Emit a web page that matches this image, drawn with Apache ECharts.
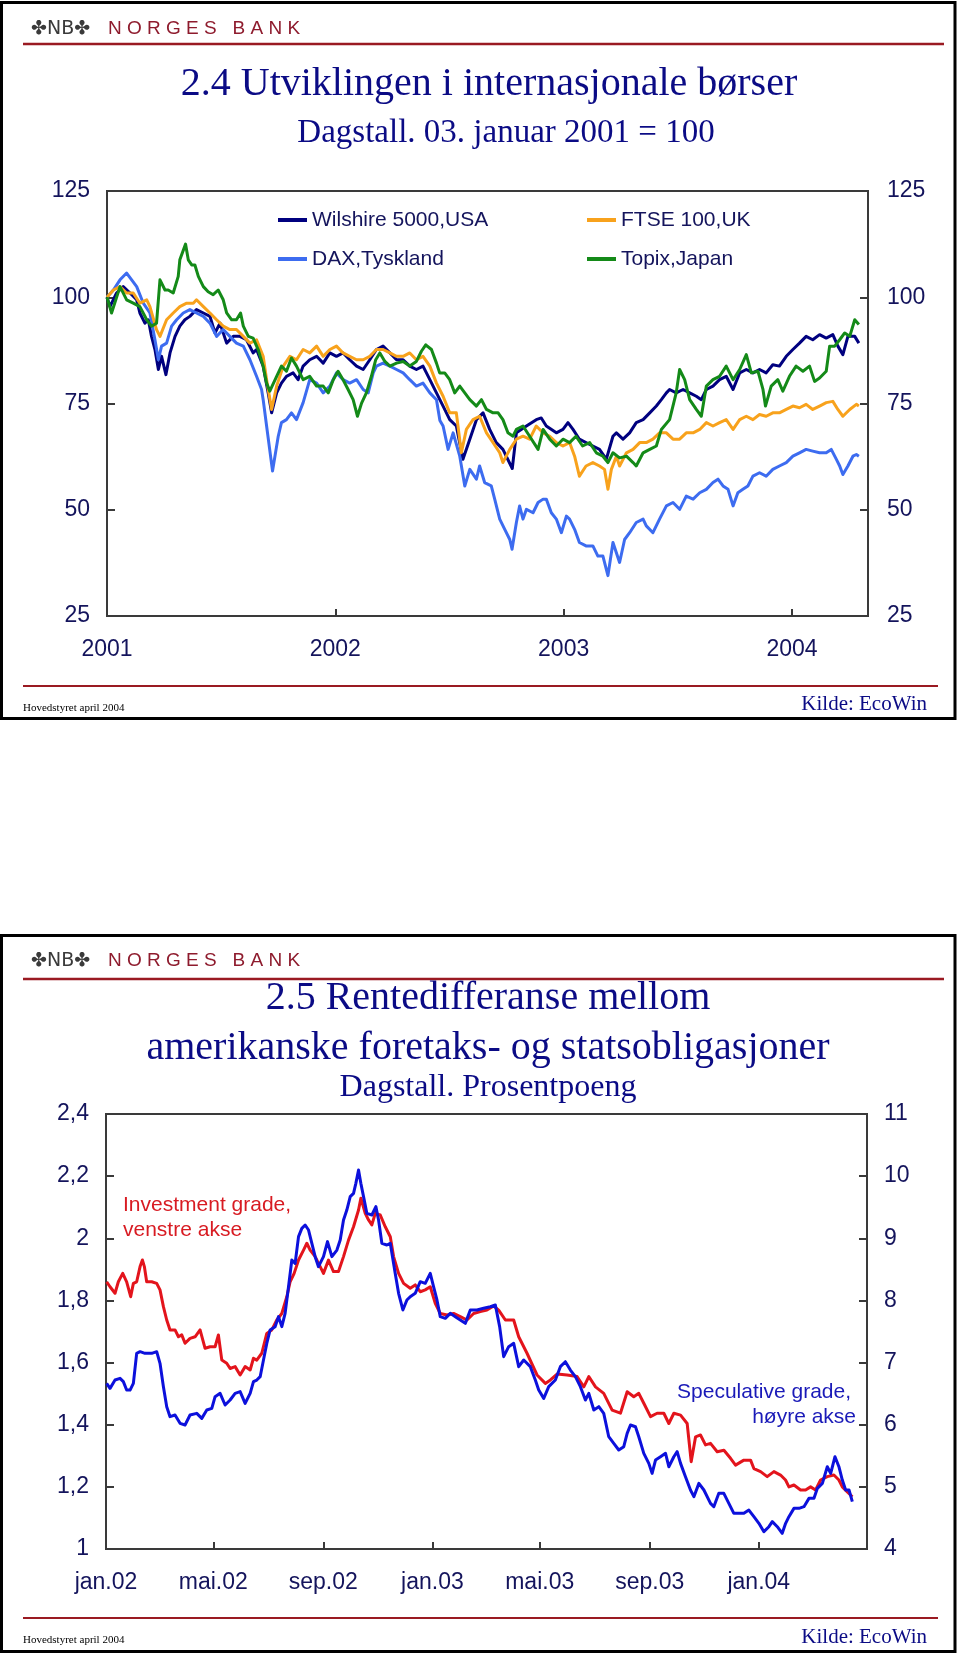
<!DOCTYPE html>
<html><head><meta charset="utf-8">
<script src="https://cdn.jsdelivr.net/npm/echarts@6.0.0/dist/echarts.min.js"></script>
<style>html,body{margin:0;padding:0;background:#fff}#c{width:960px;height:1654px}</style>
</head><body><div id="c"></div>
<script>
// ---------- Chart 2.4: stock indices, 03 Jan 2001 = 100 (x = decimal year) ----------
const seriesNamesTop = ['Wilshire 5000,USA', 'DAX,Tyskland', 'FTSE 100,UK', 'Topix,Japan'];
const yearTicks = [2001, 2002, 2003, 2004];
const indexTicks = [25, 50, 75, 100, 125];

const wilshire = [[2001.000,100.0],[2001.013,97.8],[2001.042,101.0],[2001.071,102.5],[2001.101,101.0],[2001.130,99.4],[2001.144,96.3],[2001.166,93.9],[2001.181,94.7],[2001.195,90.8],[2001.210,87.7],[2001.225,83.0],[2001.239,86.1],[2001.258,81.8],[2001.276,86.9],[2001.298,90.8],[2001.319,93.2],[2001.341,94.7],[2001.363,95.5],[2001.392,97.1],[2001.422,96.3],[2001.451,95.5],[2001.473,91.6],[2001.495,93.9],[2001.524,89.2],[2001.553,90.8],[2001.582,90.8],[2001.611,90.0],[2001.640,86.9],[2001.655,87.7],[2001.684,83.8],[2001.706,77.5],[2001.721,72.8],[2001.743,77.5],[2001.764,79.8],[2001.786,81.4],[2001.815,82.2],[2001.837,80.6],[2001.859,83.8],[2001.888,85.3],[2001.918,86.1],[2001.947,84.5],[2001.976,86.9],[2002.005,86.1],[2002.034,86.9],[2002.063,85.3],[2002.093,83.8],[2002.122,83.0],[2002.151,85.3],[2002.180,87.7],[2002.209,88.5],[2002.239,86.9],[2002.268,85.3],[2002.297,85.3],[2002.326,83.8],[2002.355,83.0],[2002.384,83.8],[2002.414,80.6],[2002.443,77.5],[2002.472,74.4],[2002.501,71.2],[2002.530,69.7],[2002.559,61.9],[2002.589,66.6],[2002.618,71.2],[2002.647,72.8],[2002.676,68.9],[2002.705,65.8],[2002.734,64.2],[2002.775,59.7],[2002.793,68.1],[2002.837,69.7],[2002.880,71.2],[2002.902,71.6],[2002.924,69.7],[2002.968,68.1],[2002.997,68.9],[2003.019,70.5],[2003.041,68.9],[2003.069,66.6],[2003.098,65.8],[2003.128,65.0],[2003.157,64.2],[2003.187,61.9],[2003.216,67.3],[2003.231,68.1],[2003.260,66.6],[2003.289,68.1],[2003.318,70.5],[2003.348,71.2],[2003.377,72.8],[2003.406,74.4],[2003.428,75.9],[2003.450,77.5],[2003.464,78.3],[2003.493,77.5],[2003.523,78.3],[2003.552,77.5],[2003.581,76.7],[2003.603,75.9],[2003.625,78.3],[2003.654,79.1],[2003.683,80.6],[2003.712,81.4],[2003.742,78.3],[2003.771,82.2],[2003.800,83.0],[2003.829,82.2],[2003.858,83.0],[2003.887,82.2],[2003.916,84.1],[2003.945,83.8],[2003.975,86.1],[2004.004,87.7],[2004.033,89.2],[2004.062,90.8],[2004.091,90.0],[2004.121,91.2],[2004.150,90.4],[2004.179,91.2],[2004.201,88.5],[2004.223,86.5],[2004.245,90.8],[2004.275,90.8],[2004.293,89.2]];

const dax = [[2001.000,100.0],[2001.028,101.7],[2001.057,104.1],[2001.086,105.7],[2001.108,104.1],[2001.130,102.5],[2001.159,98.6],[2001.188,96.3],[2001.210,90.0],[2001.225,85.3],[2001.239,88.5],[2001.261,89.2],[2001.283,93.2],[2001.305,94.7],[2001.334,96.3],[2001.363,97.1],[2001.392,96.3],[2001.422,95.5],[2001.451,93.9],[2001.480,90.8],[2001.509,92.4],[2001.538,90.8],[2001.567,89.2],[2001.597,88.5],[2001.626,85.3],[2001.655,81.4],[2001.677,78.3],[2001.684,75.9],[2001.699,69.7],[2001.725,59.1],[2001.750,67.3],[2001.764,70.5],[2001.786,71.2],[2001.808,72.8],[2001.830,71.2],[2001.859,75.2],[2001.888,80.6],[2001.918,79.8],[2001.947,77.5],[2001.976,79.1],[2002.005,82.2],[2002.034,80.6],[2002.063,79.8],[2002.093,80.6],[2002.122,78.3],[2002.144,77.5],[2002.166,82.2],[2002.180,83.8],[2002.209,84.5],[2002.239,83.8],[2002.268,83.0],[2002.297,82.2],[2002.326,80.6],[2002.355,79.1],[2002.384,79.8],[2002.414,77.5],[2002.443,75.9],[2002.458,71.0],[2002.472,69.7],[2002.494,64.2],[2002.516,68.1],[2002.545,62.6],[2002.567,55.6],[2002.589,59.5],[2002.618,57.2],[2002.632,60.3],[2002.654,56.4],[2002.683,55.6],[2002.698,52.5],[2002.720,47.8],[2002.742,45.4],[2002.764,43.0],[2002.774,40.7],[2002.793,47.0],[2002.807,50.9],[2002.822,47.8],[2002.837,50.1],[2002.866,49.3],[2002.888,51.7],[2002.910,52.5],[2002.924,52.5],[2002.946,49.3],[2002.968,47.8],[2002.990,44.6],[2003.012,48.5],[2003.026,47.8],[2003.048,45.4],[2003.069,42.3],[2003.098,41.5],[2003.128,41.5],[2003.150,39.1],[2003.172,39.1],[2003.194,34.5],[2003.216,42.3],[2003.245,37.6],[2003.267,43.0],[2003.289,44.6],[2003.318,47.0],[2003.348,47.8],[2003.362,46.2],[2003.391,44.6],[2003.420,47.8],[2003.450,50.9],[2003.479,51.7],[2003.508,50.1],[2003.537,53.2],[2003.567,52.5],[2003.596,54.0],[2003.625,54.8],[2003.654,56.4],[2003.676,57.2],[2003.698,55.6],[2003.720,54.8],[2003.742,50.9],[2003.763,54.0],[2003.785,54.8],[2003.807,55.6],[2003.829,57.9],[2003.858,58.7],[2003.887,57.9],[2003.916,59.5],[2003.945,60.3],[2003.975,61.1],[2004.004,62.6],[2004.033,63.4],[2004.062,64.2],[2004.091,63.8],[2004.121,63.4],[2004.150,63.4],[2004.172,64.2],[2004.194,61.9],[2004.209,60.3],[2004.223,58.3],[2004.245,60.3],[2004.267,62.6],[2004.282,63.0],[2004.293,62.6]];

const ftse = [[2001.000,100.0],[2001.028,101.7],[2001.057,102.5],[2001.086,101.0],[2001.115,101.0],[2001.144,98.6],[2001.174,99.4],[2001.188,97.8],[2001.217,92.4],[2001.232,90.8],[2001.261,94.7],[2001.290,96.3],[2001.319,97.8],[2001.349,98.6],[2001.378,98.6],[2001.392,99.4],[2001.422,97.8],[2001.451,96.3],[2001.480,94.7],[2001.509,93.2],[2001.538,92.4],[2001.567,92.4],[2001.597,90.8],[2001.626,89.2],[2001.655,90.0],[2001.684,86.1],[2001.699,80.6],[2001.721,73.6],[2001.743,79.1],[2001.772,83.8],[2001.801,86.1],[2001.830,85.3],[2001.859,87.7],[2001.888,86.9],[2001.918,88.5],[2001.947,86.1],[2001.976,87.7],[2002.005,88.5],[2002.034,86.9],[2002.063,86.1],[2002.093,85.3],[2002.122,85.3],[2002.151,86.1],[2002.180,87.7],[2002.209,87.7],[2002.239,86.9],[2002.268,86.1],[2002.297,86.1],[2002.326,86.9],[2002.355,85.3],[2002.384,86.1],[2002.414,83.8],[2002.443,79.8],[2002.472,76.7],[2002.501,72.8],[2002.530,72.8],[2002.552,63.4],[2002.574,68.9],[2002.603,71.2],[2002.632,72.0],[2002.662,68.1],[2002.691,65.8],[2002.720,63.4],[2002.734,61.1],[2002.764,64.2],[2002.793,66.6],[2002.822,67.3],[2002.851,66.6],[2002.880,69.7],[2002.910,68.1],[2002.939,67.3],[2002.968,65.8],[2002.997,65.0],[2003.026,65.8],[2003.048,62.6],[2003.069,57.9],[2003.098,60.3],[2003.128,61.1],[2003.157,60.3],[2003.179,59.5],[2003.194,54.8],[2003.209,59.5],[2003.231,62.6],[2003.245,60.3],[2003.275,63.4],[2003.304,64.2],[2003.333,65.8],[2003.362,65.8],[2003.391,66.6],[2003.420,68.1],[2003.450,68.1],[2003.479,66.6],[2003.508,66.6],[2003.537,68.1],[2003.567,68.1],[2003.596,68.9],[2003.625,70.5],[2003.654,69.7],[2003.683,70.5],[2003.712,71.2],[2003.742,68.9],[2003.771,71.2],[2003.800,72.0],[2003.829,71.2],[2003.858,72.4],[2003.887,72.0],[2003.916,72.8],[2003.945,72.8],[2003.975,73.6],[2004.004,74.4],[2004.033,74.0],[2004.062,74.8],[2004.091,73.6],[2004.121,74.4],[2004.150,75.2],[2004.179,75.5],[2004.201,73.6],[2004.223,72.0],[2004.253,73.6],[2004.282,74.8],[2004.293,74.4]];

const topix = [[2001.000,100.0],[2001.020,96.3],[2001.057,102.5],[2001.086,99.4],[2001.115,98.6],[2001.144,97.8],[2001.174,94.7],[2001.195,93.2],[2001.217,93.9],[2001.232,104.1],[2001.254,101.7],[2001.268,101.7],[2001.290,101.0],[2001.312,104.9],[2001.319,108.8],[2001.344,112.5],[2001.356,108.8],[2001.371,107.6],[2001.385,107.6],[2001.400,104.9],[2001.422,102.5],[2001.443,101.3],[2001.465,100.6],[2001.487,101.7],[2001.509,99.4],[2001.524,96.3],[2001.546,94.7],[2001.567,94.7],[2001.585,96.3],[2001.597,93.2],[2001.619,90.8],[2001.640,90.4],[2001.662,87.7],[2001.684,83.8],[2001.699,79.8],[2001.713,77.9],[2001.743,81.4],[2001.764,83.8],[2001.786,82.6],[2001.808,85.7],[2001.830,83.8],[2001.859,80.6],[2001.888,81.4],[2001.918,79.1],[2001.947,79.1],[2001.969,77.5],[2001.991,80.6],[2002.012,82.6],[2002.034,80.6],[2002.056,78.3],[2002.078,75.9],[2002.097,72.0],[2002.115,75.1],[2002.136,77.5],[2002.158,81.4],[2002.177,85.3],[2002.195,86.9],[2002.217,84.9],[2002.239,83.8],[2002.268,84.5],[2002.297,84.9],[2002.326,83.8],[2002.355,84.9],[2002.377,87.3],[2002.396,88.8],[2002.421,87.7],[2002.443,84.5],[2002.457,82.2],[2002.479,82.2],[2002.501,80.6],[2002.523,77.5],[2002.545,79.1],[2002.567,77.5],[2002.589,75.9],[2002.618,74.4],[2002.640,75.9],[2002.662,73.6],[2002.691,72.8],[2002.713,72.8],[2002.734,71.2],[2002.756,68.1],[2002.778,67.3],[2002.793,68.9],[2002.822,69.7],[2002.851,67.3],[2002.888,64.2],[2002.910,68.9],[2002.939,66.6],[2002.968,65.0],[2002.997,66.6],[2003.026,65.8],[2003.054,67.3],[2003.083,65.0],[2003.114,65.8],[2003.143,63.4],[2003.172,62.6],[2003.194,61.1],[2003.216,63.4],[2003.245,62.2],[2003.275,62.6],[2003.304,61.1],[2003.318,60.3],[2003.348,63.4],[2003.377,64.2],[2003.406,65.0],[2003.428,68.9],[2003.464,71.2],[2003.493,77.5],[2003.508,83.0],[2003.530,80.6],[2003.552,75.9],[2003.581,73.6],[2003.603,72.0],[2003.625,79.1],[2003.654,80.6],[2003.683,81.4],[2003.712,83.8],[2003.742,80.6],[2003.771,83.0],[2003.800,86.5],[2003.822,82.2],[2003.851,82.6],[2003.873,78.3],[2003.884,74.4],[2003.909,79.1],[2003.938,80.6],[2003.960,77.9],[2003.989,81.4],[2004.018,83.8],[2004.048,82.6],[2004.077,83.8],[2004.099,80.2],[2004.121,81.0],[2004.150,82.6],[2004.165,88.5],[2004.187,88.5],[2004.209,90.0],[2004.231,91.6],[2004.253,90.8],[2004.275,94.7],[2004.293,93.6]];

// ---------- Chart 2.5: credit spreads (x = days since 1 Jan 2002) ----------
const monthTickDays = [0, 120, 243, 365, 485, 608, 730];
const monthTickLabels = ['jan.02', 'mai.02', 'sep.02', 'jan.03', 'mai.03', 'sep.03', 'jan.04'];
const leftTicks = [1, 1.2, 1.4, 1.6, 1.8, 2, 2.2, 2.4];
const rightTicks = [4, 5, 6, 7, 8, 9, 10, 11];

const investmentGrade = [[0.7,1.860],[4.5,1.844],[10.1,1.823],[13.8,1.860],[18.7,1.887],[23.1,1.860],[27.6,1.812],[30.6,1.855],[34.3,1.860],[38.1,1.909],[40.7,1.930],[42.9,1.909],[45.5,1.860],[51.1,1.860],[56.7,1.855],[60.4,1.834],[64.2,1.780],[67.9,1.737],[71.6,1.705],[77.2,1.705],[81.0,1.683],[84.7,1.689],[88.4,1.662],[94.0,1.678],[99.6,1.683],[105.2,1.705],[110.8,1.646],[116.4,1.651],[122.0,1.651],[125.7,1.689],[129.5,1.608],[135.0,1.598],[138.8,1.581],[144.4,1.587],[150.0,1.560],[155.6,1.587],[161.2,1.576],[164.9,1.614],[168.6,1.608],[174.2,1.630],[179.8,1.694],[185.4,1.705],[191.0,1.737],[196.6,1.758],[202.2,1.812],[205.9,1.860],[210.4,1.887],[215.3,1.930],[220.9,1.962],[224.6,1.984],[228.3,1.962],[233.9,1.941],[239.5,1.909],[243.2,1.887],[248.8,1.930],[254.4,1.893],[260.0,1.893],[265.6,1.941],[271.2,1.994],[276.8,2.037],[282.4,2.091],[285.0,2.129],[289.9,2.080],[293.6,2.059],[297.3,2.043],[301.1,2.080],[306.7,2.075],[312.3,2.037],[317.9,2.005],[321.6,1.941],[327.2,1.887],[332.8,1.855],[340.2,1.839],[345.8,1.850],[351.4,1.828],[357.0,1.834],[362.6,1.844],[368.2,1.791],[373.8,1.758],[381.3,1.753],[388.7,1.758],[396.2,1.748],[403.7,1.737],[411.1,1.758],[418.6,1.764],[426.0,1.769],[433.5,1.782],[439.1,1.769],[446.6,1.737],[455.9,1.737],[461.5,1.683],[470.8,1.630],[482.0,1.560],[491.3,1.533],[497.0,1.544],[504.4,1.563],[515.6,1.560],[526.8,1.555],[534.3,1.522],[539.9,1.555],[547.4,1.522],[556.6,1.501],[566.0,1.447],[575.3,1.437],[582.8,1.506],[590.2,1.490],[595.8,1.501],[601.4,1.469],[608.9,1.426],[616.3,1.437],[623.8,1.437],[629.4,1.404],[635.0,1.437],[642.5,1.431],[649.9,1.404],[654.4,1.281],[659.3,1.361],[664.8,1.367],[670.4,1.335],[676.0,1.340],[683.5,1.313],[691.0,1.318],[698.4,1.292],[704.0,1.270],[713.3,1.286],[720.8,1.286],[724.5,1.259],[732.0,1.249],[739.4,1.233],[746.9,1.249],[754.3,1.238],[759.9,1.222],[763.7,1.200],[769.3,1.206],[776.7,1.190],[782.3,1.190],[787.9,1.200],[793.5,1.190],[799.1,1.222],[806.6,1.233],[814.0,1.238],[819.6,1.222],[823.4,1.200],[829.0,1.184],[834.6,1.168]];

const speculativeGrade = [[0.7,6.666],[4.5,6.585],[10.1,6.719],[15.7,6.746],[19.4,6.693],[23.1,6.558],[26.9,6.558],[30.6,6.666],[34.3,7.148],[38.1,7.175],[43.6,7.148],[51.1,7.148],[56.7,7.175],[60.4,6.988],[64.2,6.612],[67.9,6.290],[71.6,6.129],[77.2,6.156],[82.8,6.022],[88.4,5.995],[94.0,6.156],[101.5,6.183],[107.1,6.102],[112.7,6.237],[118.3,6.263],[122.0,6.451],[127.6,6.505],[133.2,6.317],[138.8,6.398],[144.4,6.505],[150.0,6.532],[155.6,6.344],[161.2,6.505],[164.9,6.693],[168.6,6.719],[172.4,6.773],[176.1,7.041],[179.8,7.309],[183.5,7.524],[189.1,7.578],[192.9,7.739],[196.6,7.578],[200.3,7.792],[204.1,8.221],[207.8,8.650],[211.5,8.597],[215.3,9.026],[219.0,9.160],[222.7,9.214],[226.5,9.133],[230.2,8.919],[233.9,8.704],[237.6,8.543],[243.2,8.704],[247.7,8.946],[252.6,8.704],[258.2,8.811],[261.9,8.972],[265.6,9.294],[269.3,9.455],[273.1,9.670],[276.8,9.723],[279.4,9.884],[282.4,10.099],[285.0,9.884],[288.0,9.670],[291.7,9.401],[297.3,9.375],[301.8,9.509],[304.8,9.294],[308.5,8.919],[314.1,8.892],[317.9,8.919],[323.4,8.436],[327.2,8.114],[332.0,7.846],[336.5,8.007],[340.2,8.060],[345.8,8.114],[351.4,8.302],[357.0,8.275],[362.6,8.436],[366.3,8.221],[370.1,8.007],[373.8,7.739],[379.4,7.712],[385.0,7.792],[390.6,7.739],[396.2,7.685],[401.8,7.631],[407.4,7.846],[414.8,7.846],[422.3,7.873],[429.8,7.899],[435.4,7.926],[440.2,7.578],[444.7,7.095],[450.3,7.256],[455.9,7.309],[461.5,6.934],[467.1,7.041],[474.5,6.934],[480.1,6.719],[483.9,6.558],[489.5,6.424],[495.1,6.612],[502.5,6.719],[508.1,6.934],[513.7,7.014],[519.3,6.880],[524.9,6.773],[530.5,6.612],[536.1,6.398],[539.9,6.505],[545.5,6.237],[551.1,6.290],[556.6,6.183],[562.2,5.807],[567.8,5.700],[573.4,5.593],[579.0,5.646],[582.8,5.861],[586.5,5.995],[592.1,5.968],[595.8,5.807],[601.4,5.539],[607.0,5.378],[610.7,5.217],[614.5,5.432],[620.1,5.485],[625.7,5.539],[629.4,5.324],[635.0,5.485],[638.7,5.566],[642.5,5.378],[648.0,5.164],[653.6,4.949],[657.4,4.842],[663.0,5.056],[668.6,4.949],[676.0,4.735],[679.7,4.681],[685.3,4.896],[690.9,4.896],[696.5,4.735],[702.1,4.574],[707.7,4.574],[713.3,4.574],[718.9,4.627],[724.5,4.520],[730.1,4.413],[735.7,4.279],[741.3,4.359],[745.1,4.440],[750.7,4.359],[756.2,4.252],[760.0,4.413],[763.7,4.520],[769.3,4.654],[774.9,4.654],[780.5,4.681],[786.1,4.815],[791.7,4.815],[795.5,4.976],[801.1,5.056],[806.6,5.324],[810.4,5.217],[815.2,5.485],[819.6,5.324],[823.4,5.110],[827.1,4.949],[830.9,4.949],[834.6,4.761]];

// ---------- styling ----------
const AX = '#3a3a3a';
const LBL = '#14145c';
const TITLE = '#0b0b85';
const RED_RULE = '#9a1a22';
const SANS = '"Liberation Sans", Arial, sans-serif';
const SERIF = '"Liberation Serif", "Times New Roman", serif';

function axisCommon(extra) {
  return Object.assign({
    axisLine: { show: true, onZero: false, lineStyle: { color: AX, width: 2 } },
    axisTick: { show: true, inside: true, length: 7, lineStyle: { color: AX, width: 2 } },
    splitLine: { show: false },
  }, extra);
}
const labelStyle = { fontSize: 23, color: LBL, fontFamily: SANS };

const lineSeries = (name, data, color, xi, yi, z) => ({
  name, type: 'line', data, xAxisIndex: xi, yAxisIndex: yi, color,
  symbol: 'none', showSymbol: false, z,
  lineStyle: { width: 3, color, join: 'round' }
});

function textEl(x, y, text, font, fill, align, vAlign) {
  return { type: 'text', x, y, silent: true, z: 20,
    style: { text, font, fill, align: align || 'left', verticalAlign: vAlign || 'middle' } };
}
function lineEl(x1, y1, x2, y2, stroke, w) {
  return { type: 'line', silent: true, z: 20, shape: { x1, y1, x2, y2 }, style: { stroke, lineWidth: w } };
}
function panelDeco(top, bottom, logoY, ruleY, footRuleY, kildeY, hovedY) {
  return [
    { type: 'rect', silent: true, z: 20, shape: { x: 1.5, y: top, width: 953.5, height: bottom - top },
      style: { fill: null, stroke: '#000', lineWidth: 3 } },
    textEl(31, logoY, '\u2724NB\u2724', '19px "DejaVu Sans"', '#3a3a3a'),
    textEl(108, logoY, 'N O R G E S   B A N K', '19px ' + SANS, '#8e1b2d'),
    lineEl(23, ruleY, 944, ruleY, RED_RULE, 2.5),
    lineEl(23, footRuleY, 938, footRuleY, RED_RULE, 2),
    textEl(927, kildeY, 'Kilde: EcoWin', '21px ' + SERIF, TITLE, 'right'),
    textEl(23, hovedY, 'Hovedstyret april 2004', '11px ' + SERIF, '#000')
  ];
}

const option = {
  animation: false,
  backgroundColor: '#fff',
  grid: [
    { left: 107, top: 191, width: 761, height: 425, show: true, borderColor: AX, borderWidth: 2, backgroundColor: 'rgba(0,0,0,0)' },
    { left: 106, top: 1114, width: 761, height: 435, show: true, borderColor: AX, borderWidth: 2, backgroundColor: 'rgba(0,0,0,0)' }
  ],
  legend: [
    { data: seriesNamesTop.slice(0, 2), orient: 'vertical', left: 278, top: 208, padding: 0,
      itemWidth: 29, itemHeight: 4, itemGap: 15, icon: 'rect', selectedMode: false,
      textStyle: { fontSize: 21, color: LBL, fontFamily: SANS, lineHeight: 24 } },
    { data: seriesNamesTop.slice(2, 4), orient: 'vertical', left: 587, top: 208, padding: 0,
      itemWidth: 29, itemHeight: 4, itemGap: 15, icon: 'rect', selectedMode: false,
      textStyle: { fontSize: 21, color: LBL, fontFamily: SANS, lineHeight: 24 } }
  ],
  xAxis: [
    axisCommon({ type: 'value', gridIndex: 0, min: 2001, max: 2004.333, interval: 1,
      axisTick: { show: true, inside: true, length: 7, lineStyle: { color: AX, width: 2 }, customValues: yearTicks },
      axisLabel: Object.assign({ customValues: yearTicks, margin: 22, formatter: v => String(Math.round(v)) }, labelStyle) }),
    axisCommon({ type: 'value', gridIndex: 1, min: 0, max: 851,
      axisTick: { show: true, inside: true, length: 7, lineStyle: { color: AX, width: 2 }, customValues: monthTickDays },
      axisLabel: Object.assign({ customValues: monthTickDays, margin: 22,
        formatter: v => { const i = monthTickDays.indexOf(Math.round(v)); return i >= 0 ? monthTickLabels[i] : ''; } }, labelStyle) })
  ],
  yAxis: [
    axisCommon({ type: 'value', gridIndex: 0, position: 'left', min: 25, max: 125, interval: 25,
      axisTick: { show: true, inside: true, length: 8, lineStyle: { color: AX, width: 2 }, customValues: indexTicks },
      axisLabel: Object.assign({ margin: 17, customValues: indexTicks }, labelStyle) }),
    axisCommon({ type: 'value', gridIndex: 0, position: 'right', min: 25, max: 125, interval: 25,
      axisTick: { show: true, inside: true, length: 8, lineStyle: { color: AX, width: 2 }, customValues: indexTicks },
      axisLabel: Object.assign({ margin: 19, customValues: indexTicks }, labelStyle) }),
    axisCommon({ type: 'value', gridIndex: 1, position: 'left', min: 1, max: 2.4, interval: 0.2,
      axisTick: { show: true, inside: true, length: 8, lineStyle: { color: AX, width: 2 }, customValues: leftTicks },
      axisLabel: Object.assign({ margin: 17, customValues: leftTicks,
        formatter: v => String(Math.round(v * 10) / 10).replace('.', ',') }, labelStyle) }),
    axisCommon({ type: 'value', gridIndex: 1, position: 'right', min: 4, max: 11, interval: 1,
      axisTick: { show: true, inside: true, length: 8, lineStyle: { color: AX, width: 2 }, customValues: rightTicks },
      axisLabel: Object.assign({ margin: 17, customValues: rightTicks }, labelStyle) })
  ],
  series: [
    lineSeries(seriesNamesTop[0], wilshire, '#00007f', 0, 0, 2),
    lineSeries(seriesNamesTop[1], dax, '#3d6cf0', 0, 0, 3),
    lineSeries(seriesNamesTop[2], ftse, '#f8a21c', 0, 0, 4),
    lineSeries(seriesNamesTop[3], topix, '#148a18', 0, 0, 5),
    lineSeries('Investment grade, venstre akse', investmentGrade, '#e3141c', 1, 2, 2),
    lineSeries('Speculative grade, høyre akse', speculativeGrade, '#0c10dc', 1, 3, 3)
  ],
  graphic: [].concat(
    panelDeco(2.5, 718.5, 29, 44, 686, 704, 708),
    panelDeco(935.5, 1651.5, 961, 979, 1618, 1637, 1640),
    [
      textEl(489, 84, '2.4 Utviklingen i internasjonale børser', '40px ' + SERIF, TITLE, 'center'),
      textEl(506, 133, 'Dagstall. 03. januar 2001 = 100', '33px ' + SERIF, TITLE, 'center'),
      textEl(488, 998, '2.5 Rentedifferanse mellom', '40px ' + SERIF, TITLE, 'center'),
      textEl(488, 1048, 'amerikanske foretaks- og statsobligasjoner', '40px ' + SERIF, TITLE, 'center'),
      textEl(488, 1088, 'Dagstall. Prosentpoeng', '32px ' + SERIF, TITLE, 'center'),
      textEl(123, 1205, 'Investment grade,', '21px ' + SANS, '#d81b22'),
      textEl(123, 1230, 'venstre akse', '21px ' + SANS, '#d81b22'),
      textEl(851, 1392, 'Speculative grade,', '21px ' + SANS, '#1a1ab8', 'right'),
      textEl(856, 1417, 'høyre akse', '21px ' + SANS, '#1a1ab8', 'right')
    ]
  )
};

const chart = echarts.init(document.getElementById('c'), null, { renderer: 'canvas', width: 960, height: 1654 });
chart.setOption(option);
</script></body></html>
